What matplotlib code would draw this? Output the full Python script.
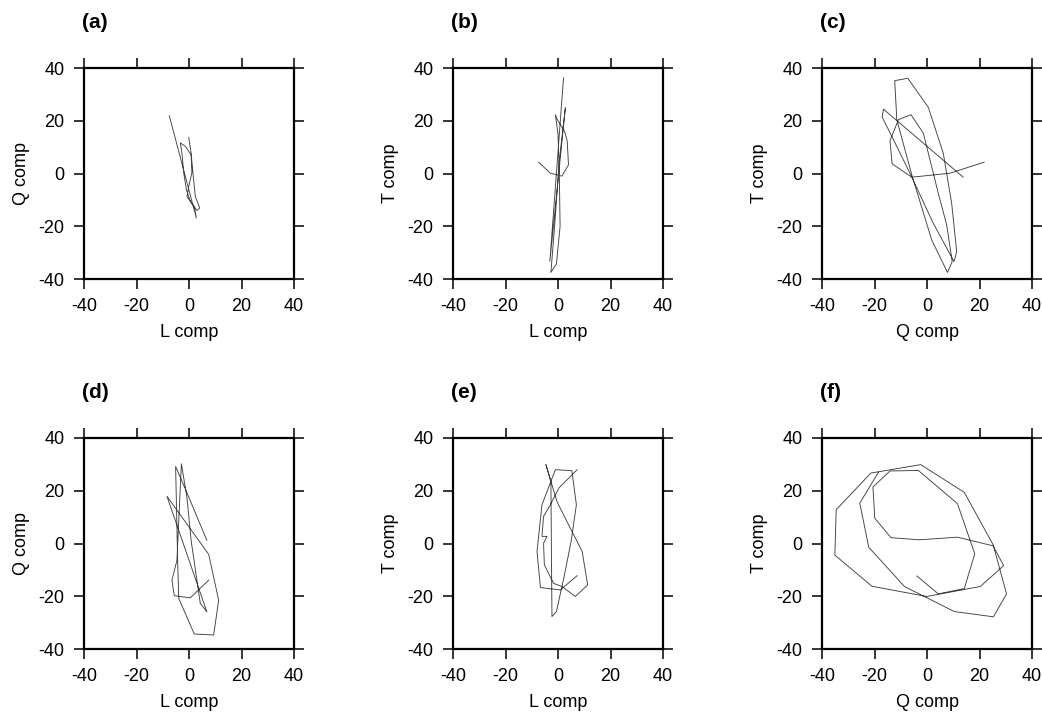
import numpy as np
import matplotlib
matplotlib.use("Agg")
import matplotlib.pyplot as plt

# ============================================================
# 0. 配置
# ============================================================
plt.rcParams["font.family"] = ["Liberation Sans", "DejaVu Sans"]
plt.rcParams["axes.unicode_minus"] = False

# ============================================================
# 1. 数据 (质点运动轨迹, 读图估计)
# ============================================================
# (a) L-Q
a_x = [-0.1, 0.8, 1.5, 2.4, 4.1, 3.0, 0.5, -1.0, -2.0, -2.7, -3.3, -1.4,
       0.8, 1.1, -0.1, -0.8, 2.0, 2.8, -7.5]
a_y = [13.7, 7.8, 0.2, -8.7, -13.1, -14.0, -10.6, -6.1, 0.2, 7.8, 11.6, 10.3,
       7.1, 0.2, -4.9, -8.7, -12.5, -16.9, 21.9]

# (b) L-T
b_x = [-7.4, -2.9, -0.4, 1.5, 4.0, 3.5, 2.5, -0.3, -1.0, 0.0, 0.5, 0.8,
       -0.6, -2.7, -1.3, 0.5, 2.8, -3.1, 2.1]
b_y = [4.3, 0.1, -0.5, -1.0, 3.3, 12.5, 16.0, 20.5, 22.3, 15.0, 0.0, -20.0,
       -34.3, -37.5, -20.0, 5.0, 24.9, -33.3, 36.3]

# (c) Q-T
c_x = [21.8, 8.7, -5.8, -13.3, -14.1, -10.9, -6.1, -1.4, 4.3, 7.5, 9.6, 7.8,
       1.8, -5.8, -11.5, -12.3, -7.3, 0.5, 6.2, 9.4, 11.3, 10.3, 2.4, -6.5,
       -13.4, -17.1, -16.6, 13.8]
c_y = [4.3, 0.1, -1.4, 3.7, 12.4, 20.4, 22.3, 15.3, -7.5, -19.5, -33.4, -37.5,
       -25.2, -0.5, 20.4, 35.2, 36.1, 25.1, 7.7, -11.3, -29.6, -33.4, -18.9, 0.1,
       14.1, 21.4, 24.4, -1.4]

# (d) L-Q
d_x = [7.5, 0.5, -5.6, -6.5, -4.6, -2.9, -0.8, 0.8, 4.3, 6.8, -8.4, 7.5,
       11.3, 9.4, 2.0, -3.9, -4.3, -5.1, -1.4, 6.8]
d_y = [-13.9, -20.6, -19.8, -13.9, -6.4, 30.2, 17.6, 1.2, -22.7, -25.9, 17.9, -4.1,
       -21.5, -34.7, -34.3, -20.8, -7.6, 29.2, 20.7, 1.2]

# (e) L-T
e_x = [7.3, 0.9, -6.7, -8.0, -6.1, -1.0, 5.3, 7.0, 5.0, 2.2, -0.6, -2.3,
       -2.5, -2.7, -4.6, -0.4, 5.3, 9.2, 11.3, 6.6, 1.5, -1.7, -5.2, -5.5,
       -4.2, -6.1, -5.5, -2.9, 0.3, 7.3]
e_y = [-12.2, -17.6, -16.7, -3.0, 14.7, 28.0, 27.6, 14.7, 0.8, -13.2, -25.8, -27.7,
       -4.3, 23.5, 29.9, 15.9, 4.6, -3.0, -15.7, -20.1, -16.3, -15.1, -8.1, 0.1,
       2.7, 2.7, 10.3, 14.7, 21.0, 28.0]

# (f) Q-T
f_x = [-3.9, 4.3, 14.2, 18.2, 11.6, -3.3, -14.1, -20.6, -19.9, -13.7, -2.9, 11.6,
       25.2, 29.2, 20.3, -0.1, -21.0, -35.1, -34.6, -21.4, -2.4, 14.2, 25.2, 30.3,
       25.3, 10.4, -8.6, -22.2, -25.6, -18.5]
f_y = [-12.3, -19.1, -17.1, -3.9, 15.1, 27.7, 27.5, 21.4, 9.6, 2.2, 1.4, 2.4,
       -0.9, -8.4, -16.3, -20.1, -16.2, -4.4, 12.8, 26.7, 29.9, 19.4, -0.5, -19.1,
       -27.8, -25.8, -16.3, -1.4, 15.3, 27.0]

PANELS = [
    ("(a)", a_x, a_y, "L comp", "Q comp"),
    ("(b)", b_x, b_y, "L comp", "T comp"),
    ("(c)", c_x, c_y, "Q comp", "T comp"),
    ("(d)", d_x, d_y, "L comp", "Q comp"),
    ("(e)", e_x, e_y, "L comp", "T comp"),
    ("(f)", f_x, f_y, "Q comp", "T comp"),
]
TICKS = [-40, -20, 0, 20, 40]


# ============================================================
# 2. 绘图
# ============================================================
def draw_panel(ax, tag, xs, ys, xlabel, ylabel):
    ax.plot(xs, ys, color="#404040", linewidth=0.65)
    ax.set_xlim(-40, 40)
    ax.set_ylim(-40, 40)
    ax.set_xticks(TICKS)
    ax.set_yticks(TICKS)
    ax.tick_params(direction="out", length=7, width=1.1, labelsize=13,
                   top=True, right=True, pad=7)
    for s in ax.spines.values():
        s.set_linewidth(1.6)
    ax.set_xlabel(xlabel, fontsize=13, labelpad=6)
    ax.set_ylabel(ylabel, fontsize=13, labelpad=6)
    ax.text(-0.01, 1.215, tag, transform=ax.transAxes, fontsize=15,
            fontweight="bold", ha="left", va="center")


fig = plt.figure(figsize=(10.42, 7.14), dpi=100)
lefts = [84 / 1042, 453 / 1042, 822 / 1042]
bottoms = [(714 - 279) / 714, (714 - 649) / 714]
w, h = 210 / 1042, 211 / 714

for i, (tag, xs, ys, xl, yl) in enumerate(PANELS):
    ax = fig.add_axes([lefts[i % 3], bottoms[i // 3], w, h])
    draw_panel(ax, tag, xs, ys, xl, yl)

fig.savefig("out.png", dpi=100)
